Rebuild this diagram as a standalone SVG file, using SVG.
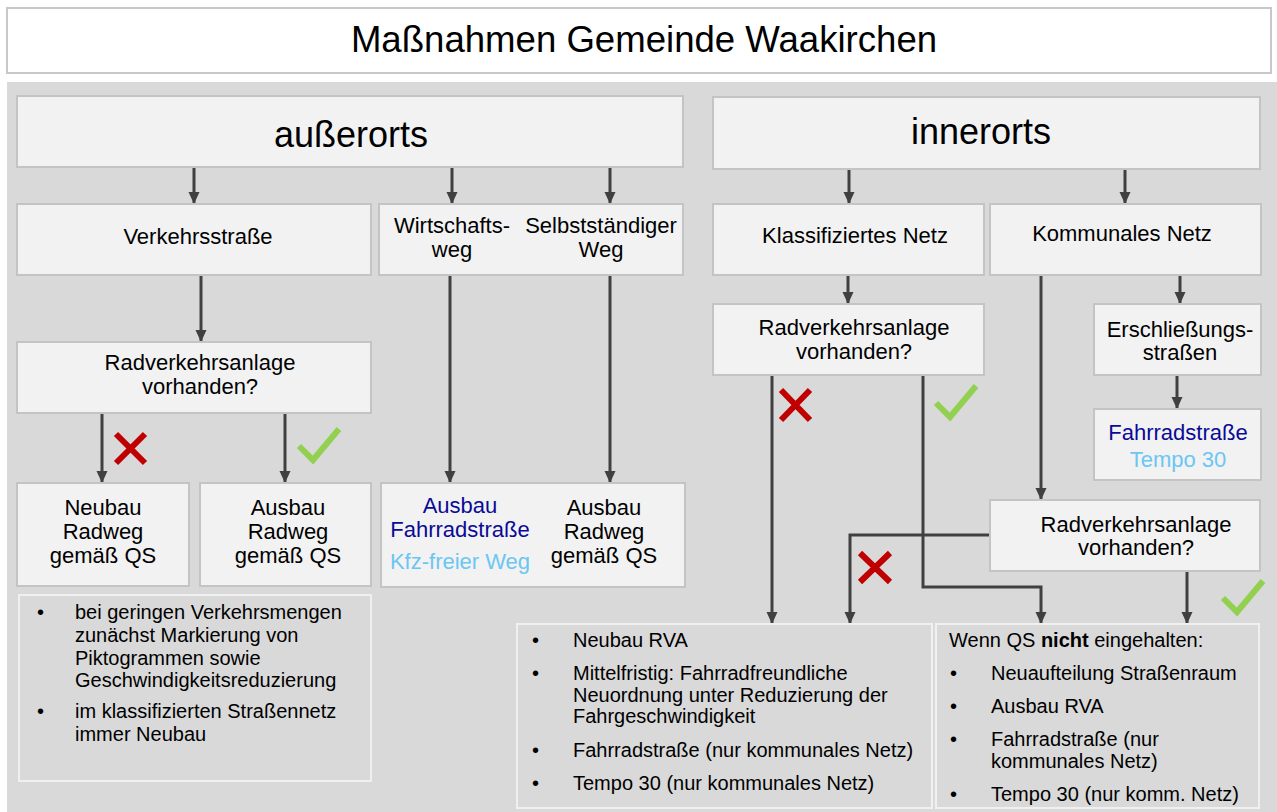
<svg xmlns="http://www.w3.org/2000/svg" width="1277" height="812" viewBox="0 0 1277 812">
<defs>
<style>
text{font-family:"Liberation Sans",Arial,sans-serif;fill:#000;}
.n{font-size:22px;text-anchor:middle;}
.h{font-size:36px;text-anchor:middle;}
.b{font-size:20px;}
.box{fill:#f2f2f2;stroke:#c4c4c4;stroke-width:2;}
.tbox{fill:none;stroke:#f0f0f0;stroke-width:2;}
.c{fill:none;stroke:#404040;stroke-width:3;marker-end:url(#ah);}
.dk{fill:#0a0a96;}
.lt{fill:#6cc6f2;}
.x{stroke:#c00000;stroke-width:6;fill:none;}
.ok{stroke:#92d050;stroke-width:6;fill:none;}
</style>
<marker id="ah" viewBox="0 0 12 12" refX="12" refY="6" markerWidth="12" markerHeight="12" markerUnits="userSpaceOnUse" orient="auto">
<path d="M0,0.5 L12,6 L0,11.5 z" fill="#404040"/>
</marker>
</defs>
<rect x="0" y="0" width="1277" height="812" fill="#ffffff"/>
<g id="title">
<rect x="7" y="8" width="1264" height="65" fill="#ffffff" stroke="#c8c8c8" stroke-width="2"/>
<text x="644" y="52" style="font-size:36.6px;text-anchor:middle">Maßnahmen Gemeinde Waakirchen</text>
</g>
<rect x="7" y="82" width="1270" height="730" fill="#d9d9d9"/>

<g id="connectors">
<path class="c" d="M194,167 V204"/>
<path class="c" d="M452,167 V204"/>
<path class="c" d="M610,167 V204"/>
<path class="c" d="M201,275 V342"/>
<path class="c" d="M102,413 V483"/>
<path class="c" d="M285,413 V483"/>
<path class="c" d="M450,275 V483"/>
<path class="c" d="M610,275 V483"/>
<path class="c" d="M849,169 V204"/>
<path class="c" d="M1125,169 V204"/>
<path class="c" d="M848,275 V304"/>
<path class="c" d="M1180,275 V304"/>
<path class="c" d="M1177,375 V409"/>
<path class="c" d="M1041,275 V500"/>
<path class="c" d="M772,375 V624"/>
<path class="c" d="M923,375 V587 H1041 V624"/>
<path class="c" d="M990,535 H850 V624"/>
<path class="c" d="M1187,571 V624"/>
</g>

<g id="ausserorts">
<rect class="box" x="17" y="96" width="666" height="71"/>
<text class="h" x="351" y="147">außerorts</text>
</g>
<g id="verkehrsstrasse">
<rect class="box" x="17" y="204" width="354" height="71"/>
<text class="n" x="198" y="244">Verkehrsstraße</text>
</g>
<g id="wirtschaftsweg">
<rect class="box" x="379" y="204" width="304" height="71"/>
<text class="n" x="452" y="233">Wirtschafts-</text>
<text class="n" x="452" y="257">weg</text>
<text class="n" x="601" y="233">Selbstständiger</text>
<text class="n" x="601" y="257">Weg</text>
</g>
<g id="rva-aussen">
<rect class="box" x="17" y="342" width="354" height="71"/>
<text class="n" x="200" y="370">Radverkehrsanlage</text>
<text class="n" x="200" y="394">vorhanden?</text>
</g>
<g id="neubau-radweg">
<rect class="box" x="17" y="483" width="172" height="103"/>
<text class="n" x="103" y="515">Neubau</text>
<text class="n" x="103" y="539">Radweg</text>
<text class="n" x="103" y="563">gemäß QS</text>
</g>
<g id="ausbau-radweg">
<rect class="box" x="200" y="483" width="171" height="103"/>
<text class="n" x="288" y="515">Ausbau</text>
<text class="n" x="288" y="539">Radweg</text>
<text class="n" x="288" y="563">gemäß QS</text>
</g>
<g id="ausbau-fahrrad">
<rect class="box" x="381" y="483" width="304" height="104"/>
<text class="n dk" x="460" y="513">Ausbau</text>
<text class="n dk" x="460" y="537">Fahrradstraße</text>
<text class="n lt" x="460" y="569">Kfz-freier Weg</text>
<text class="n" x="604" y="515">Ausbau</text>
<text class="n" x="604" y="539">Radweg</text>
<text class="n" x="604" y="563">gemäß QS</text>
</g>
<g id="hinweis-aussen">
<rect class="tbox" x="19" y="595" width="352" height="186"/>
<text class="b" x="37" y="619">•</text>
<text class="b" x="75" y="619">bei geringen Verkehrsmengen</text>
<text class="b" x="75" y="642">zunächst Markierung von</text>
<text class="b" x="75" y="665">Piktogrammen sowie</text>
<text class="b" x="75" y="687">Geschwindigkeitsreduzierung</text>
<text class="b" x="37" y="718">•</text>
<text class="b" x="75" y="718">im klassifizierten Straßennetz</text>
<text class="b" x="75" y="741">immer Neubau</text>
</g>

<g id="innerorts">
<rect class="box" x="713" y="97" width="547" height="72"/>
<text class="h" x="981" y="144">innerorts</text>
</g>
<g id="klassifiziert">
<rect class="box" x="713" y="204" width="271" height="71"/>
<text class="n" x="855" y="243">Klassifiziertes Netz</text>
</g>
<g id="kommunal">
<rect class="box" x="990" y="204" width="271" height="71"/>
<text class="n" x="1122" y="241">Kommunales Netz</text>
</g>
<g id="rva-klass">
<rect class="box" x="713" y="304" width="271" height="71"/>
<text class="n" x="854" y="335">Radverkehrsanlage</text>
<text class="n" x="854" y="359">vorhanden?</text>
</g>
<g id="erschliessung">
<rect class="box" x="1094" y="304" width="167" height="71"/>
<text class="n" x="1180" y="337">Erschließungs-</text>
<text class="n" x="1180" y="360">straßen</text>
</g>
<g id="fahrradstrasse">
<rect class="box" x="1094" y="409" width="167" height="71"/>
<text class="n dk" x="1178" y="440">Fahrradstraße</text>
<text class="n lt" x="1178" y="467">Tempo 30</text>
</g>
<g id="rva-kommunal">
<rect class="box" x="990" y="500" width="270" height="71"/>
<text class="n" x="1136" y="532">Radverkehrsanlage</text>
<text class="n" x="1136" y="555">vorhanden?</text>
</g>
<g id="massnahmen-neubau">
<rect class="tbox" x="517" y="624" width="415" height="184"/>
<text class="b" x="532" y="647">•</text>
<text class="b" x="573" y="647">Neubau RVA</text>
<text class="b" x="532" y="680">•</text>
<text class="b" x="573" y="680">Mittelfristig: Fahrradfreundliche</text>
<text class="b" x="573" y="702">Neuordnung unter Reduzierung der</text>
<text class="b" x="573" y="723">Fahrgeschwindigkeit</text>
<text class="b" x="532" y="757">•</text>
<text class="b" x="573" y="757">Fahrradstraße (nur kommunales Netz)</text>
<text class="b" x="532" y="790">•</text>
<text class="b" x="573" y="790">Tempo 30 (nur kommunales Netz)</text>
</g>
<g id="massnahmen-qs">
<rect class="tbox" x="936" y="624" width="323" height="184"/>
<text class="b" x="949" y="647">Wenn QS <tspan style="font-weight:bold">nicht</tspan> eingehalten:</text>
<text class="b" x="950" y="680">•</text>
<text class="b" x="991" y="680">Neuaufteilung Straßenraum</text>
<text class="b" x="950" y="713">•</text>
<text class="b" x="991" y="713">Ausbau RVA</text>
<text class="b" x="950" y="746">•</text>
<text class="b" x="991" y="746">Fahrradstraße (nur</text>
<text class="b" x="991" y="768">kommunales Netz)</text>
<text class="b" x="950" y="801">•</text>
<text class="b" x="991" y="801">Tempo 30 (nur komm. Netz)</text>
</g>

<g id="marks">
<path class="x" d="M116,434 L145,463 M145,434 L116,463"/>
<path class="x" d="M781,390 L810,420 M810,390 L781,420"/>
<path class="x" d="M860,553 L890,582 M890,553 L860,582"/>
<polyline class="ok" points="299,446 313,460 339,429"/>
<polyline class="ok" points="936,403 950,417 976,386"/>
<polyline class="ok" points="1223,598 1237,612 1263,581"/>
</g>
</svg>
